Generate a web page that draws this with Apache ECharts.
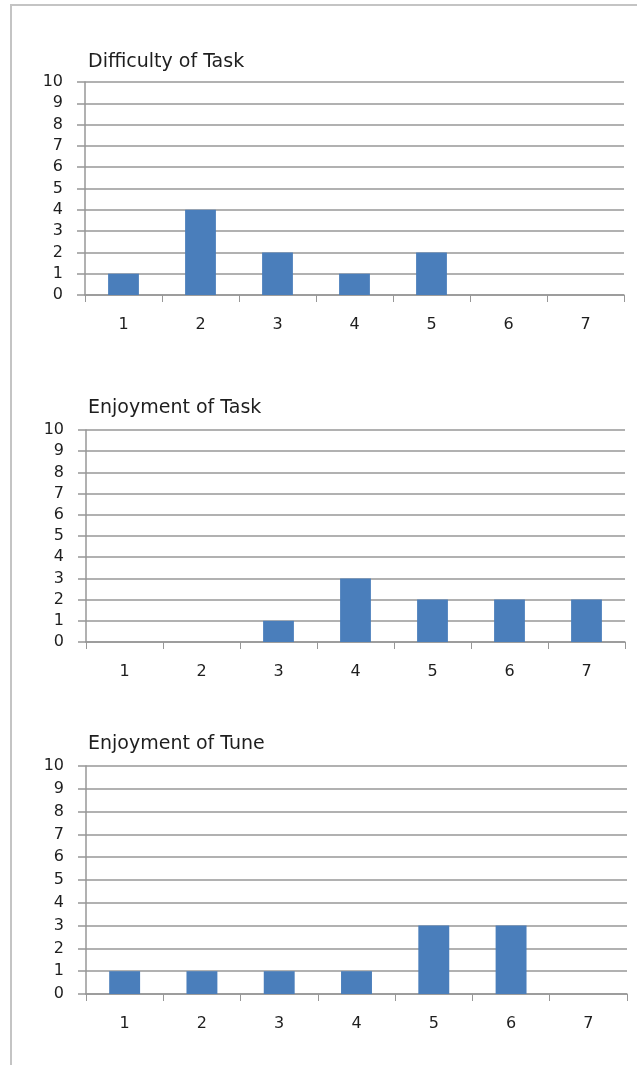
<!DOCTYPE html>
<html>
<head>
<meta charset="utf-8">
<script src="https://cdn.jsdelivr.net/npm/echarts@6/dist/echarts.min.js"></script>
<style>
  html, body { margin: 0; padding: 0; background: #fff; }
  #frame { position: absolute; left: 10px; top: 4px; right: -4px; bottom: -4px;
           border-top: 2px solid #c4c4c4; border-left: 2px solid #c4c4c4; }
  #chart { position: absolute; left: 0; top: 0; width: 637px; height: 1065px; }
</style>
</head>
<body>
<div id="frame"></div>
<div id="chart"></div>
<script>
// Rating scale shared by all three questions
const ratings = ['1', '2', '3', '4', '5', '6', '7'];
const yTicks = [0, 1, 2, 3, 4, 5, 6, 7, 8, 9, 10];

// Number of responses per rating
const difficultyOfTask = [1, 4, 2, 1, 2, 0, 0];
const enjoymentOfTask = [0, 0, 1, 3, 2, 2, 2];
const enjoymentOfTune = [1, 1, 1, 1, 3, 3, 0];

const panelTitles = ['Difficulty of Task', 'Enjoyment of Task', 'Enjoyment of Tune'];
const panelData = [difficultyOfTask, enjoymentOfTask, enjoymentOfTune];

const FONT = '"DejaVu Sans", Verdana, sans-serif';
const TEXT = '#1e1e1e';
const GRID_LINE = '#979797';
const BAR = '#4a7ebb';

// Pixel layout of each panel: plot area and title position
const panels = [
  { left: 85, right: 13, top: 82,  height: 213, titleTop: 53 },
  { left: 86, right: 12, top: 430, height: 212, titleTop: 399 },
  { left: 86, right: 10, top: 766, height: 228, titleTop: 735 }
];

const chart = echarts.init(document.getElementById('chart'), null, { renderer: 'canvas' });

const option = {
  animation: false,
  backgroundColor: 'transparent',
  title: panels.map((p, i) => ({
    text: panelTitles[i],
    left: 88,
    top: p.titleTop,
    padding: 0,
    textStyle: { fontFamily: FONT, fontSize: 19, fontWeight: 'normal', color: TEXT }
  })),
  grid: panels.map(p => ({ left: p.left, right: p.right, top: p.top, height: p.height, containLabel: false })),
  xAxis: panels.map((p, i) => ({
    type: 'category',
    gridIndex: i,
    data: ratings,
    boundaryGap: true,
    axisLine: { show: true, lineStyle: { color: GRID_LINE, width: 1.5 } },
    axisTick: { show: true, length: 7, alignWithLabel: false, lineStyle: { color: GRID_LINE, width: 1 } },
    axisLabel: { margin: 22, fontFamily: FONT, fontSize: 16, color: TEXT },
    splitLine: { show: false }
  })),
  yAxis: panels.map((p, i) => ({
    type: 'value',
    gridIndex: i,
    min: yTicks[0],
    max: yTicks[yTicks.length - 1],
    interval: 1,
    axisLine: { show: true, lineStyle: { color: GRID_LINE, width: 1.5 } },
    axisTick: { show: true, length: 8, lineStyle: { color: GRID_LINE, width: 1.5 } },
    axisLabel: { margin: 22, fontFamily: FONT, fontSize: 16, color: TEXT },
    splitLine: { show: true, lineStyle: { color: GRID_LINE, width: 1.5 } }
  })),
  series: panelData.map((values, i) => ({
    type: 'bar',
    name: panelTitles[i],
    xAxisIndex: i,
    yAxisIndex: i,
    data: values,
    barWidth: '40%',
    itemStyle: { color: BAR }
  }))
};

chart.setOption(option);
</script>
</body>
</html>
